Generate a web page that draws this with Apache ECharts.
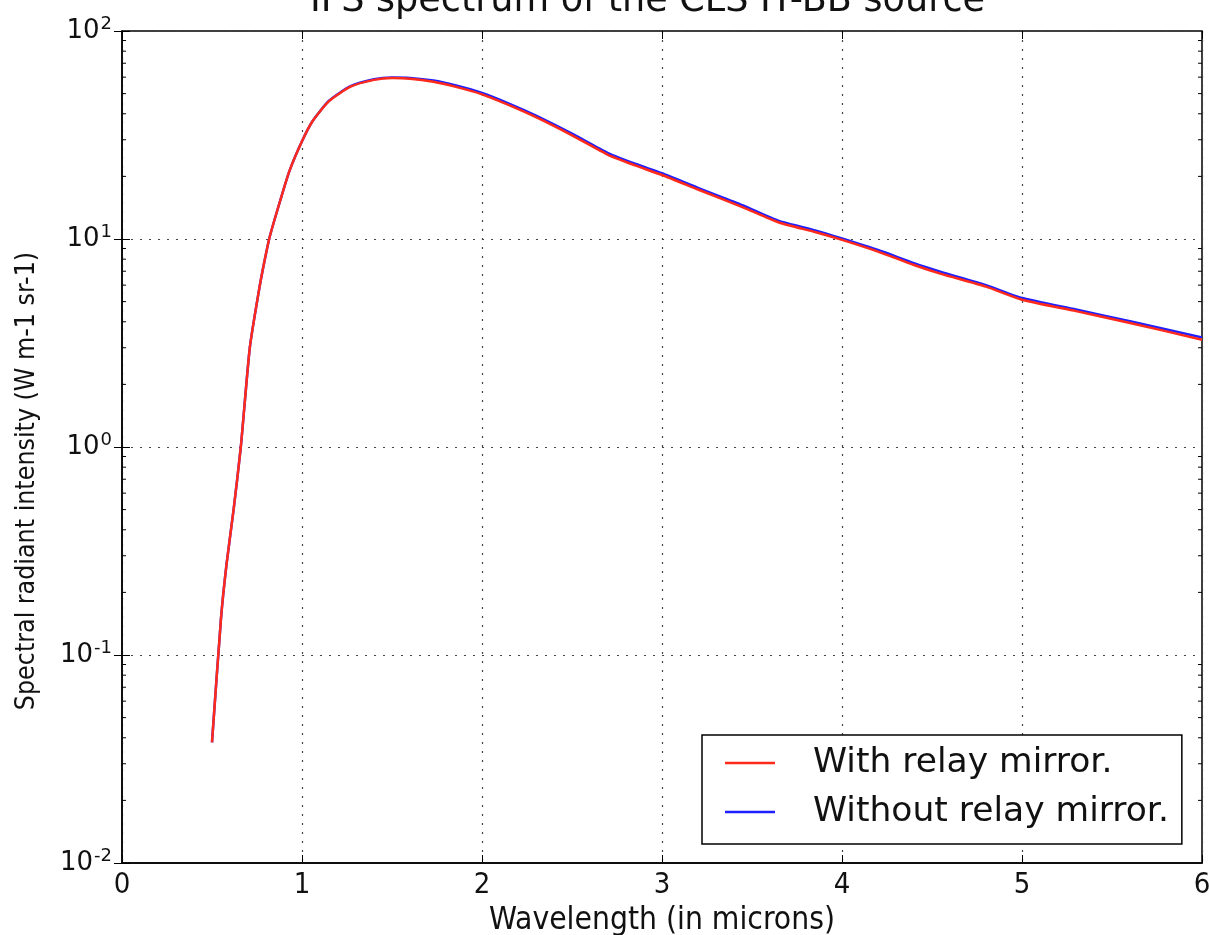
<!DOCTYPE html>
<html>
<head>
<meta charset="utf-8">
<script src="https://cdn.jsdelivr.net/npm/echarts@6/dist/echarts.min.js"></script>
<style>
  html, body { margin: 0; padding: 0; background: #fff; }
  #chart { width: 1209px; height: 935px; }
</style>
</head>
<body>
<div id="chart"></div>
<script>
// wavelength samples (microns)
const wavelength = [0.50, 0.55, 0.58, 0.62, 0.66, 0.71, 0.76, 0.79, 0.82, 0.88, 0.93, 1.00, 1.06, 1.15, 1.27, 1.40, 1.50, 1.60, 1.73, 1.85, 2.00, 2.15, 2.30, 2.50, 2.70, 2.85, 3.00, 3.20, 3.45, 3.65, 3.85, 4.00, 4.20, 4.40, 4.55, 4.80, 5.00, 5.30, 5.60, 6.00]
const withMirror = [0.038, 0.15, 0.27, 0.5, 1.0, 3.0, 5.6, 7.7, 10.2, 15.4, 21.2, 29.5, 37, 46, 54, 58.2, 59.4, 59.0, 57.0, 54, 49.6, 44, 38.5, 31.5, 25.4, 22.6, 20.3, 17.3, 14.2, 12.0, 10.8, 9.9, 8.7, 7.5, 6.8, 5.9, 5.1, 4.5, 3.95, 3.28]
const withoutMirror = [0.038, 0.15, 0.27, 0.5, 1.0, 3.0, 5.6, 7.7, 10.2, 15.4, 21.2, 29.5, 37, 46.2, 54.3, 58.6, 59.8, 59.5, 57.8, 54.9, 50.4, 44.8, 39.2, 32.1, 25.9, 23.0, 20.7, 17.6, 14.5, 12.2, 11.0, 10.05, 8.85, 7.65, 6.95, 6.0, 5.2, 4.58, 4.02, 3.36]
const seriesNames = ['With relay mirror.', 'Without relay mirror.']
// minor ticks of the log axis
const minorTickValues = []
for (const d of [0.01, 0.1, 1, 10]) {
  for (let k = 2; k <= 9; k++) minorTickValues.push(+(k * d).toPrecision(3))
}

const font = 'DejaVu Sans'
const narrow = "'DejaVu Sans Condensed', 'DejaVu Sans'"
const chart = echarts.init(document.getElementById('chart'))

const toPairs = (ys) => wavelength.map((x, i) => [x, ys[i]])

const gridLine = { show: true, lineStyle: { color: '#444', type: [2, 7], width: 1.2 } }

const option = {
  animation: false,
  title: {
    text: 'IFS spectrum of the CLS IT-BB source',
    left: 305,
    top: -22,
    textStyle: { fontFamily: font, fontSize: 36.6, fontWeight: 'normal', color: '#111' }
  },
  graphic: [{
    type: 'text',
    x: 27,
    y: 481,
    rotation: Math.PI / 2,
    style: {
      text: 'Spectral radiant intensity (W m-1 sr-1)',
      fontFamily: narrow,
      fontSize: 26.5,
      fill: '#111',
      textAlign: 'center',
      textVerticalAlign: 'middle'
    }
  }],
  grid: {
    left: 122, top: 31, right: 7, bottom: 72,
    outerBoundsMode: 'none',
    show: true, borderColor: '#000', borderWidth: 1.5, backgroundColor: '#fff'
  },
  legend: {
    data: seriesNames,
    orient: 'vertical',
    left: 702,
    top: 735,
    padding: [10, 13, 14, 23],
    itemGap: 13,
    itemWidth: 50,
    itemHeight: 2.5,
    icon: 'rect',
    borderColor: '#000',
    borderWidth: 1.5,
    backgroundColor: '#fff',
    textStyle: { fontFamily: font, fontSize: 34.5, color: '#111', lineHeight: 36, padding: [0, 0, 0, 33] }
  },
  xAxis: [{
    type: 'value', min: 0, max: 6, interval: 1,
    name: 'Wavelength (in microns)', nameLocation: 'middle', nameGap: 36,
    nameTextStyle: { fontFamily: narrow, fontSize: 31.5, color: '#111' },
    axisLine: { show: true, lineStyle: { color: '#000', width: 1.5 } },
    axisTick: { show: true, inside: true, length: 8, lineStyle: { color: '#000' } },
    axisLabel: { fontFamily: narrow, fontSize: 29, color: '#111', margin: 8 },
    splitLine: gridLine
  }, {
    type: 'value', min: 0, max: 6, interval: 1, position: 'top',
    axisLine: { show: false },
    axisTick: { show: true, inside: true, length: 8, lineStyle: { color: '#000' } },
    axisLabel: { show: false },
    splitLine: { show: false }
  }],
  yAxis: [{
    type: 'log', logBase: 10, min: 0.01, max: 100, splitNumber: 4,
    axisLine: { show: true, lineStyle: { color: '#000', width: 1.5 } },
    axisTick: { show: true, inside: true, length: 8, lineStyle: { color: '#000' } },
    axisLabel: {
      margin: 10,
      formatter: (v) => '{b|10}{s|' + Math.round(Math.log10(v)) + '}',
      rich: {
        b: { fontFamily: font, fontSize: 26, color: '#111' },
        s: { fontFamily: font, fontSize: 18, color: '#111', verticalAlign: 'top', padding: [0, 0, 14, 1] }
      }
    },
    splitLine: gridLine
  }, {
    type: 'log', logBase: 10, min: 0.01, max: 100, splitNumber: 4, position: 'right',
    axisLine: { show: false },
    axisTick: { show: true, inside: true, length: 8, lineStyle: { color: '#000' } },
    axisLabel: { show: false },
    splitLine: { show: false }
  }],
  series: [{
    name: 'minor ticks',
    type: 'custom',
    silent: true,
    z: 1,
    data: minorTickValues.map((v) => [0, v]),
    renderItem: (params, api) => {
      const l = api.coord([0, api.value(1)])
      const r = api.coord([6, api.value(1)])
      const st = { stroke: '#000', lineWidth: 1 }
      return {
        type: 'group',
        children: [
          { type: 'line', shape: { x1: l[0], y1: l[1], x2: l[0] + 4, y2: l[1] }, style: st },
          { type: 'line', shape: { x1: r[0], y1: r[1], x2: r[0] - 4, y2: r[1] }, style: st }
        ]
      }
    }
  }, {
    name: seriesNames[1],
    type: 'line',
    data: toPairs(withoutMirror),
    showSymbol: false, symbol: 'none',
    smooth: 0.2,
    color: '#1f1fff',
    lineStyle: { color: '#1f1fff', width: 2.5 },
    z: 3
  }, {
    name: seriesNames[0],
    type: 'line',
    data: toPairs(withMirror),
    showSymbol: false, symbol: 'none',
    smooth: 0.2,
    color: '#ff2a1a',
    lineStyle: { color: '#ff2a1a', width: 2.5 },
    z: 4
  }]
}

chart.setOption(option)
</script>
</body>
</html>
